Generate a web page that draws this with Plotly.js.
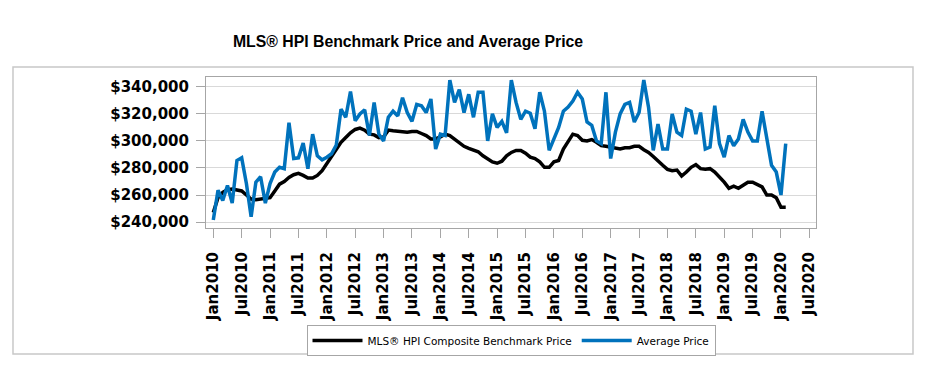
<!DOCTYPE html>
<html>
<head>
<meta charset="utf-8">
<script src="https://cdn.plot.ly/plotly-3.0.1.min.js"></script>
<style>html,body{margin:0;padding:0;background:#fff;}#chart{width:948px;height:376px;}</style>
</head>
<body>
<div id="chart"></div>
<script>
// Months from Jan 2010 (index 0) to Feb 2020 (index 121)
const monthNames = ["Jan","Feb","Mar","Apr","May","Jun","Jul","Aug","Sep","Oct","Nov","Dec"];
const benchmarkPrice = [
 247000, 258000, 262000, 264000, 264500, 264000, 263000, 260000, 257000, 256500, 257000, 257000,
 258000, 263000, 268000, 270000, 273000, 275000, 276000, 274500, 272500, 272500, 274500, 278000,
 283000, 289000, 294000, 299000, 302500, 306000, 308500, 309500, 308000, 305000, 304500, 302500,
 303000, 308000, 307500, 307000, 306500, 306500, 307000, 307000, 305500, 304000, 301500, 301500,
 303000, 305000, 304000, 301500, 298500, 296000, 294500, 293500, 292000, 289000, 287000, 284500,
 283500, 285000, 289000, 291500, 293000, 293000, 291000, 288000, 287000, 284500, 280500, 280500,
 284500, 285500, 294000, 299000, 305000, 304000, 300500, 300000, 301000, 299000, 296500, 296000,
 295500, 295000, 294000, 295000, 295000, 296000, 296000, 293500, 291500, 288500, 285000, 282000,
 279000, 278000, 278500, 274000, 277000, 280500, 282500, 279500, 279000, 279500, 277000, 273500,
 269500, 265000, 266500, 265000, 267000, 269500, 269500, 268000, 266000, 260000, 260000, 258000,
 251000, 251000
];
const averagePrice = [
 241500, 263500, 256000, 267000, 254000, 285500, 287500, 268500, 244000, 269500, 273500, 254000,
 268500, 277000, 280500, 279500, 313500, 287000, 287500, 298500, 279500, 305000, 289000, 286000,
 288000, 290500, 297000, 323500, 317500, 336500, 315000, 320000, 323000, 304000, 328500, 305000,
 300000, 317500, 322000, 318500, 332000, 321000, 314500, 327000, 326000, 321000, 331000, 294000,
 305000, 304000, 345000, 328500, 338000, 321000, 334500, 317500, 336000, 336000, 300000, 320000,
 310000, 314500, 306000, 345000, 328500, 316000, 322000, 320500, 309000, 336000, 322000, 293000,
 301500, 310000, 322000, 325000, 329500, 336000, 331000, 314000, 311500, 300000, 298000, 336000,
 287000, 306500, 320000, 327000, 328500, 314000, 321000, 345000, 325000, 293000, 312500, 294000,
 294000, 320000, 306500, 304000, 323500, 322000, 305000, 321000, 294000, 295500, 326000, 298000,
 288000, 304000, 296500, 301500, 316000, 306500, 300000, 300000, 322000, 302500, 282000, 277000,
 260000, 298000
];
const tickMonths = [0,6,12,18,24,30,36,42,48,54,60,66,72,78,84,90,96,102,108,114,120,126];
const tickLabels = ["Jan2010","Jul2010","Jan2011","Jul2011","Jan2012","Jul2012","Jan2013","Jul2013",
 "Jan2014","Jul2014","Jan2015","Jul2015","Jan2016","Jul2016","Jan2017","Jul2017","Jan2018","Jul2018",
 "Jan2019","Jul2019","Jan2020","Jul2020"];
const yTicks = [240000,260000,280000,300000,320000,340000];
const yTickLabels = ["$240,000","$260,000","$280,000","$300,000","$320,000","$340,000"];
const seriesNames = ["MLS® HPI Composite Benchmark Price","Average Price"];

const monthIdx = benchmarkPrice.map((_, i) => i);
const monthText = monthIdx.map(i => monthNames[i % 12] + (2010 + Math.floor(i / 12)));

const traces = [
  {x: monthIdx, y: benchmarkPrice, text: monthText, type: 'scatter', mode: 'lines', name: seriesNames[0],
   line: {color: '#000000', width: 3.5}},
  {x: monthIdx, y: averagePrice, text: monthText, type: 'scatter', mode: 'lines', name: seriesNames[1],
   line: {color: '#0072bc', width: 3.5}}
];

const tickFont = {family: 'DejaVu Sans', size: 15, color: '#000', weight: 'bold'};

const layout = {
  width: 948, height: 376,
  margin: {l: 206, r: 132, t: 77, b: 148},
  paper_bgcolor: '#ffffff', plot_bgcolor: '#ffffff',
  title: {text: 'MLS® HPI Benchmark Price and Average Price',
    font: {family: 'Liberation Sans', size: 15.8, color: '#000', weight: 'bold'},
    xref: 'container', x: 408/948, xanchor: 'center', yref: 'container', y: 1 - 41/376, yanchor: 'middle'},
  xaxis: {
    range: [-1.54, 127.4], tickmode: 'array', tickvals: tickMonths, ticktext: tickLabels,
    tickangle: -90, tickfont: tickFont, ticks: 'outside', ticklen: 9, tickcolor: '#a6a6a6', tickwidth: 1,
    showgrid: false, zeroline: false, showline: true, linecolor: '#a6a6a6', linewidth: 1, mirror: true,
    ticklabelstandoff: 8
  },
  yaxis: {
    range: [235600, 347300], tickmode: 'array', tickvals: yTicks, ticktext: yTickLabels,
    tickfont: tickFont, ticks: 'outside', ticklen: 9, tickcolor: '#a6a6a6', tickwidth: 1,
    showgrid: true, gridcolor: '#d9d9d9', gridwidth: 1, zeroline: false,
    showline: true, linecolor: '#a6a6a6', linewidth: 1, mirror: true, ticklabelstandoff: 4
  },
  showlegend: true,
  legend: {orientation: 'h', x: 0.5, xanchor: 'center', y: -0.642, yanchor: 'top',
    font: {family: 'DejaVu Sans', size: 10.5, color: '#000'}, bgcolor: '#ffffff',
    bordercolor: '#a6a6a6', borderwidth: 1, itemwidth: 50},
  shapes: [{type: 'rect', xref: 'paper', yref: 'paper', x0: -0.3164, x1: 1.159, y0: -0.834, y1: 1.066,
    line: {color: '#c8c8c8', width: 1.5}, fillcolor: 'rgba(0,0,0,0)', layer: 'below'}]
};

Plotly.newPlot('chart', traces, layout, {displayModeBar: false, staticPlot: true});
</script>
</body>
</html>
